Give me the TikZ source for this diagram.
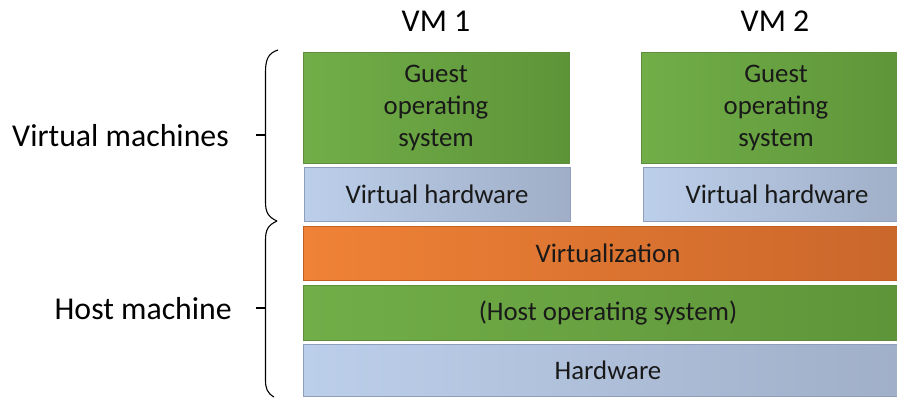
\documentclass[tikz,border=0pt]{standalone}
\usepackage{fontspec}
\setmainfont{Carlito}
\definecolor{greenL}{HTML}{71AE48}
\definecolor{greenD}{HTML}{5E9439}
\definecolor{greenE}{HTML}{5E8E3C}
\definecolor{blueL}{HTML}{BCCFEA}
\definecolor{blueD}{HTML}{A0AEC7}
\definecolor{blueE}{HTML}{8D9FBD}
\definecolor{orangeL}{HTML}{EF8236}
\definecolor{orangeD}{HTML}{C9662B}
\definecolor{orangeE}{HTML}{C2611F}
\begin{document}
\begin{tikzpicture}[x=1pt,y=-1pt,
  layer/.style={draw, line width=0.8pt, inner sep=0pt, align=center,
    font=\fontsize{26.8}{32}\selectfont, text=black!90},
  greenbox/.style={layer, draw=greenE, left color=greenL, right color=greenD},
  bluebox/.style={layer, draw=blueE, left color=blueL, right color=blueD},
  orangebox/.style={layer, draw=orangeE, left color=orangeL, right color=orangeD},
  biglabel/.style={font=\fontsize{31.8}{36}\selectfont, inner sep=0pt},
  brace/.style={draw=black, line width=1.1pt}
]
\useasboundingbox (0,0) rectangle (897,397);

% guest layers of the two virtual machines
\node[greenbox, minimum width=266, minimum height=111] (g1) at (436,107.5) {Guest\\operating\\system};
\node[bluebox, minimum width=266, minimum height=54] (vh1) at (437,194) {Virtual hardware};
\node[greenbox, minimum width=270, minimum height=111] (g2) at (776,107.5) {Guest\\operating\\system};
\node[bluebox, minimum width=268, minimum height=54] (vh2) at (777,194) {Virtual hardware};

% host layers
\node[orangebox, minimum width=610, minimum height=54] (virt) at (608,253) {Virtualization};
\node[greenbox, minimum width=610, minimum height=55] (hos) at (608,312.5) {(Host operating system)};
\node[bluebox, minimum width=610, minimum height=52] (hw) at (608,370) {Hardware};

% column headings
\node[biglabel] (vm1) at (436,21) {VM 1};
\node[biglabel] (vm2) at (775,21) {VM 2};

% group labels
\node[biglabel, anchor=east] (vml) at (229,136) {Virtual machines};
\node[biglabel, anchor=east] (hml) at (232,309) {Host machine};

% braces grouping the layers
\draw[brace] (278,50) .. controls (268,53) and (265.5,60) .. (265.5,72)
  -- (265.5,202) .. controls (265.5,212) and (268,217) .. (277,221);
\draw[brace] (277,221) .. controls (268,225) and (265.5,230) .. (265.5,240)
  -- (265.5,380) .. controls (265.5,388) and (267,393) .. (274,397);
\coordinate (t1) at (265.5,135);
\coordinate (t2) at (265.5,308);
\draw[brace] (t1) -- ++(-10,0);
\draw[brace] (t2) -- ++(-10,0);
\end{tikzpicture}
\end{document}
